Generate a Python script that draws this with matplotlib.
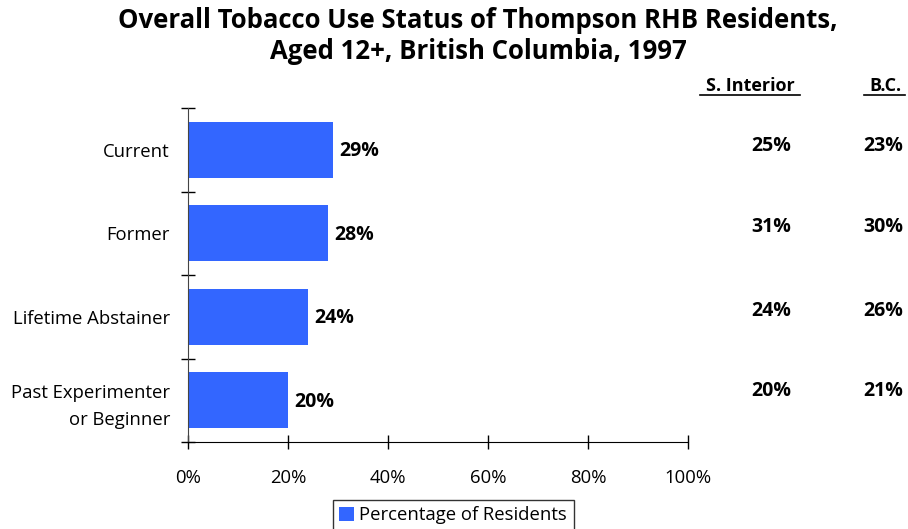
import matplotlib.pyplot as plt
import matplotlib.transforms as mtransforms

# data
categories = ["Current", "Former", "Lifetime Abstainer", "Past Experimenter\nor Beginner"]
thompson = [29, 28, 24, 20]
s_interior = [25, 31, 24, 20]
bc = [23, 30, 26, 21]
x_ticks = [0, 20, 40, 60, 80, 100]

plt.rcParams['font.family'] = ['Open Sans', 'DejaVu Sans']

fig = plt.figure(figsize=(9.08, 5.29), dpi=100)
ax = fig.add_axes([188 / 908, 1 - 442 / 529, 500 / 908, 334 / 529])

ypos = list(range(len(categories)))
bars = ax.barh(ypos, thompson, height=0.67, color="#3366FF", label="Percentage of Residents")

ax.set_xlim(0, 100)
ax.set_ylim(3.5, -0.5)

# value labels next to bars
for y, v in zip(ypos, thompson):
    ax.text(v + 1.2, y + 0.02, f"{v}%", va="center", ha="left",
            fontsize=14, fontweight="bold")

# axes styling
for s in ["top", "right"]:
    ax.spines[s].set_visible(False)
ax.spines["left"].set_color("#444444")
ax.set_yticks(ypos)
ax.set_yticklabels(categories, fontsize=13.3, linespacing=1.65)
ax.tick_params(axis="y", length=0, pad=13)
ax.set_yticks([-0.5, 0.5, 1.5, 2.5, 3.5], minor=True)
ax.tick_params(axis="y", which="minor", direction="inout", length=10, width=1)
ax.set_xticks(x_ticks)
ax.set_xticklabels([f"{t}%" for t in x_ticks], fontsize=13.3)
ax.tick_params(axis="x", direction="inout", length=9.5, width=1, pad=15)

# side-by-side comparison columns
trans = mtransforms.blended_transform_factory(fig.transFigure, ax.transData)
fig.text(750 / 908, 1 - 86 / 529, "S. Interior", ha="center", va="center",
         fontsize=13, fontweight="bold")
fig.text(885 / 908, 1 - 86 / 529, "B.C.", ha="center", va="center",
         fontsize=13, fontweight="bold")
fig.add_artist(plt.Line2D([700 / 908, 800 / 908], [1 - 95 / 529] * 2, color="black", lw=1.2))
fig.add_artist(plt.Line2D([864 / 908, 905 / 908], [1 - 95 / 529] * 2, color="black", lw=1.2))
offsets = [-0.05, -0.08, -0.07, -0.11]
for y, a, b, off in zip(ypos, s_interior, bc, offsets):
    ax.text(771 / 908, y + off, f"{a}%", transform=trans, ha="center", va="center",
            fontsize=14, fontweight="bold")
    ax.text(883 / 908, y + off, f"{b}%", transform=trans, ha="center", va="center",
            fontsize=14, fontweight="bold")

fig.text(478 / 908, 1 - 36 / 529,
         "Overall Tobacco Use Status of Thompson RHB Residents,\nAged 12+, British Columbia, 1997",
         ha="center", va="center", fontsize=18.5, fontweight="bold", linespacing=1.2)

leg = fig.legend(handles=[bars], loc="upper center", bbox_to_anchor=(453 / 908, 1 - 500 / 529),
                 fontsize=13.3, frameon=True, fancybox=False, edgecolor="black",
                 handlelength=0.8, handleheight=0.8, handletextpad=0.3, borderpad=0.35,
                 borderaxespad=0)
leg.get_frame().set_linewidth(1)

fig.savefig("out.png", dpi=100)
